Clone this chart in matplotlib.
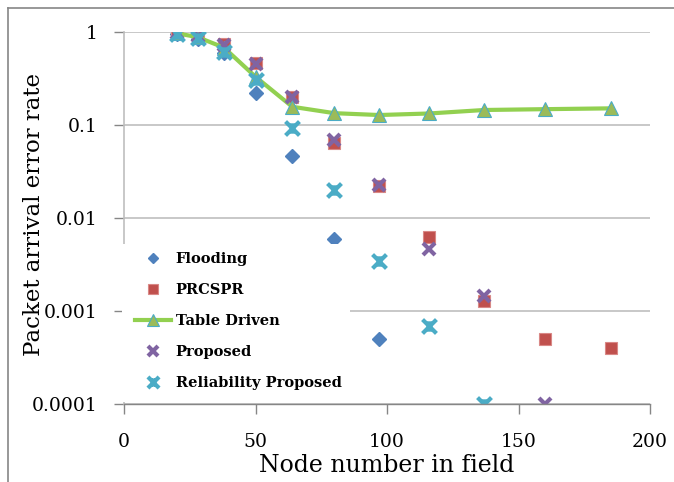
import matplotlib
matplotlib.use("Agg")
import matplotlib.pyplot as plt
from matplotlib.path import Path
from matplotlib.lines import Line2D
from matplotlib.patches import Rectangle
from matplotlib.ticker import FixedLocator, FixedFormatter, NullLocator

# ---- data ----
flooding_x = [20, 28, 38, 50, 64, 80, 97]
flooding = [0.95, 0.85, 0.59, 0.22, 0.046, 0.0059, 0.0005]
prcspr_x = [20, 28, 38, 50, 64, 80, 97, 116, 137, 160, 185]
prcspr = [0.98, 0.91, 0.75, 0.46, 0.20, 0.064, 0.022, 0.0063, 0.00127, 0.0005, 0.0004]
table_x = [20, 28, 38, 50, 64, 80, 97, 116, 137, 160, 185]
table = [0.97, 0.88, 0.68, 0.33, 0.157, 0.134, 0.128, 0.133, 0.145, 0.148, 0.151]
proposed_x = [20, 28, 38, 50, 64, 80, 97, 116, 137, 160]
proposed = [0.97, 0.90, 0.72, 0.45, 0.20, 0.069, 0.0226, 0.0046, 0.00145, 0.0001]
rel_x = [20, 28, 38, 50, 64, 80, 97, 116, 137]
rel = [0.95, 0.855, 0.614, 0.305, 0.092, 0.020, 0.00345, 0.00069, 0.0001]

labels = ["Flooding", "PRCSPR", "Table Driven", "Proposed", "Reliability Proposed"]
yticks = [1e-4, 1e-3, 1e-2, 1e-1, 1]
ytick_labels = ["0.0001", "0.001", "0.01", "0.1", "1"]
xticks = [0, 50, 100, 150, 200]
xtick_labels = ["0", "50", "100", "150", "200"]

# ---- style ----
W, H = 674, 482
fig = plt.figure(figsize=(W / 100, H / 100), dpi=100)
AX_L, AX_R, AX_T, AX_B = 124, 650, 32, 404
ax = fig.add_axes([AX_L / W, 1 - AX_B / H, (AX_R - AX_L) / W, (AX_B - AX_T) / H])


def ax_x(px):
    return (px - AX_L) / (AX_R - AX_L)


def ax_y(py):
    return (AX_B - py) / (AX_B - AX_T)


serif = "DejaVu Serif"
gridc = "#BFBFBF"
axc = "#868686"

# star marker (X with vertical bar)
star = Path([(-1, -1), (1, 1), (-1, 1), (1, -1), (0, -0.75), (0, 0.75)],
            [Path.MOVETO, Path.LINETO, Path.MOVETO, Path.LINETO, Path.MOVETO, Path.LINETO])

ax.plot(flooding_x, flooding, linestyle="none", marker="D", ms=7,
        mfc="#4F81BD", mec="#4F81BD", label=labels[0], zorder=3)
ax.plot(prcspr_x, prcspr, linestyle="none", marker="s", ms=9,
        mfc="#C0504D", mec="#D98886", mew=0.8, label=labels[1], zorder=3)
ax.plot(table_x, table, color="#92D050", lw=3, marker="^", ms=10,
        mfc="#9BBB59", mec="#4BACC6", mew=0.8, label=labels[2], zorder=3)
ax.plot(proposed_x, proposed, linestyle="none", marker="x", ms=9, mew=3,
        mec="#8064A2", label=labels[3], zorder=3)
ax.plot(rel_x, rel, linestyle="none", marker=star, ms=10, mew=3,
        mec="#4BACC6", mfc="none", label=labels[4], zorder=3)

ax.set_yscale("log")
ax.set_ylim(1e-4, 1)
ax.set_xlim(0, 200)
ax.yaxis.set_major_locator(FixedLocator(yticks))
ax.yaxis.set_major_formatter(FixedFormatter(ytick_labels))
ax.yaxis.set_minor_locator(NullLocator())
ax.xaxis.set_major_locator(FixedLocator(xticks))
ax.xaxis.set_major_formatter(FixedFormatter(xtick_labels))

ax.grid(axis="y", color=gridc, lw=1.2, zorder=1)
ax.set_axisbelow(True)
for s in ["top", "right"]:
    ax.spines[s].set_visible(False)
ax.spines["left"].set_color(gridc)
ax.spines["bottom"].set_color(axc)
ax.spines["left"].set_linewidth(1.2)
ax.spines["bottom"].set_linewidth(1.0)
ax.spines["bottom"].set_zorder(6)

ax.tick_params(axis="y", direction="out", length=7, width=1, color=axc, pad=12,
               labelsize=13.5, labelcolor="black")
ax.tick_params(axis="x", direction="out", length=7, width=1, color=axc, pad=14,
               labelsize=13.5, labelcolor="black")
for t in ax.get_xticklabels() + ax.get_yticklabels():
    t.set_fontfamily(serif)

ax.set_xlabel("Node number in field", fontsize=17, family=serif, labelpad=2)
ax.set_ylabel("Packet arrival error rate", fontsize=16.5, family=serif)
ax.yaxis.set_label_coords(ax_x(45), ax_y(214.5))

# white legend background area (covers axis line and gridline like the reference)
ax.add_patch(Rectangle((ax_x(122), ax_y(402)), ax_x(350) - ax_x(122), ax_y(244) - ax_y(402),
                       transform=ax.transAxes, facecolor="white", edgecolor="none",
                       zorder=4, clip_on=False))

leg = ax.legend(loc="upper left", bbox_to_anchor=(ax_x(135), ax_y(252)),
                borderaxespad=0, frameon=False, handlelength=2.5, handletextpad=0.3,
                labelspacing=1.16, borderpad=0, markerscale=0.8,
                prop={"family": serif, "weight": "bold", "size": 10.5})
leg.set_zorder(5)

# figure border (left and top visible)
fig.add_artist(Line2D([8 / W, 8 / W], [0, 1 - 8 / H], color=axc, lw=1.2))
fig.add_artist(Line2D([8 / W, 1], [1 - 8 / H, 1 - 8 / H], color=axc, lw=1.2))

fig.savefig("out.png", dpi=100)
